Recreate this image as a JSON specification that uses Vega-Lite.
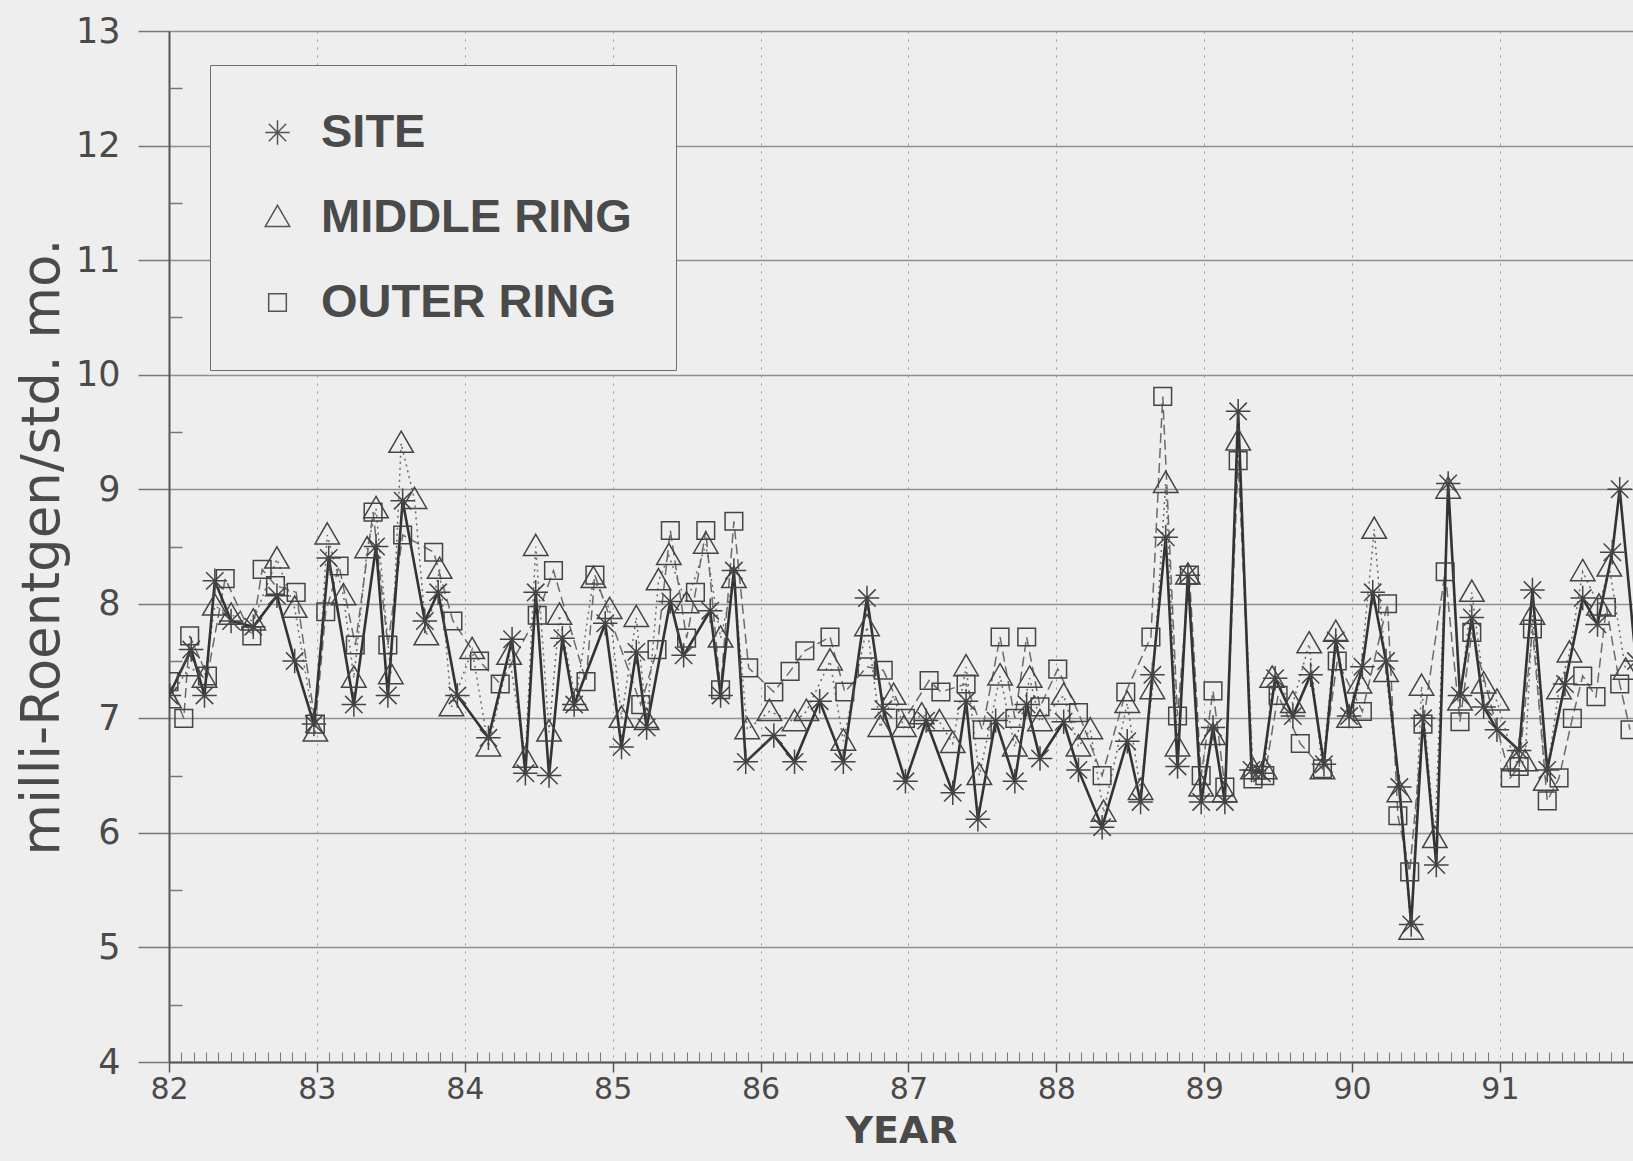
{
  "$schema": "https://vega.github.io/schema/vega-lite/v6.json",
  "width": 1464,
  "height": 1031,
  "autosize": {"type": "none"},
  "padding": {"left": 169, "top": 31, "right": 0, "bottom": 99},
  "background": "#eeeeee",
  "config": {"view": {"stroke": null}},
  "data": {"values": [
    {"series":"OUTER RING","year":82.00,"value":7.32},{"series":"OUTER RING","year":82.10,"value":7.0},{"series":"OUTER RING","year":82.14,"value":7.72},{"series":"OUTER RING","year":82.26,"value":7.37},{"series":"OUTER RING","year":82.38,"value":8.22},{"series":"OUTER RING","year":82.56,"value":7.72},{"series":"OUTER RING","year":82.63,"value":8.3},{"series":"OUTER RING","year":82.72,"value":8.16},{"series":"OUTER RING","year":82.86,"value":8.1},{"series":"OUTER RING","year":82.99,"value":6.95},
    {"series":"OUTER RING","year":83.06,"value":7.93},{"series":"OUTER RING","year":83.15,"value":8.33},{"series":"OUTER RING","year":83.26,"value":7.64},{"series":"OUTER RING","year":83.38,"value":8.8},{"series":"OUTER RING","year":83.48,"value":7.64},{"series":"OUTER RING","year":83.58,"value":8.6},{"series":"OUTER RING","year":83.79,"value":8.45},{"series":"OUTER RING","year":83.92,"value":7.85},
    {"series":"OUTER RING","year":84.10,"value":7.5},{"series":"OUTER RING","year":84.24,"value":7.3},{"series":"OUTER RING","year":84.49,"value":7.9},{"series":"OUTER RING","year":84.60,"value":8.29},{"series":"OUTER RING","year":84.82,"value":7.32},{"series":"OUTER RING","year":84.88,"value":8.25},
    {"series":"OUTER RING","year":85.19,"value":7.12},{"series":"OUTER RING","year":85.30,"value":7.6},{"series":"OUTER RING","year":85.39,"value":8.64},{"series":"OUTER RING","year":85.50,"value":7.7},{"series":"OUTER RING","year":85.56,"value":8.1},{"series":"OUTER RING","year":85.63,"value":8.64},{"series":"OUTER RING","year":85.73,"value":7.25},{"series":"OUTER RING","year":85.82,"value":8.72},{"series":"OUTER RING","year":85.92,"value":7.44},
    {"series":"OUTER RING","year":86.09,"value":7.23},{"series":"OUTER RING","year":86.20,"value":7.41},{"series":"OUTER RING","year":86.30,"value":7.59},{"series":"OUTER RING","year":86.47,"value":7.71},{"series":"OUTER RING","year":86.57,"value":7.23},{"series":"OUTER RING","year":86.72,"value":7.45},{"series":"OUTER RING","year":86.83,"value":7.42},{"series":"OUTER RING","year":86.98,"value":7.0},
    {"series":"OUTER RING","year":87.14,"value":7.33},{"series":"OUTER RING","year":87.22,"value":7.23},{"series":"OUTER RING","year":87.39,"value":7.3},{"series":"OUTER RING","year":87.50,"value":6.9},{"series":"OUTER RING","year":87.62,"value":7.71},{"series":"OUTER RING","year":87.72,"value":7.0},{"series":"OUTER RING","year":87.80,"value":7.71},{"series":"OUTER RING","year":87.89,"value":7.1},
    {"series":"OUTER RING","year":88.01,"value":7.43},{"series":"OUTER RING","year":88.15,"value":7.05},{"series":"OUTER RING","year":88.31,"value":6.5},{"series":"OUTER RING","year":88.47,"value":7.23},{"series":"OUTER RING","year":88.64,"value":7.71},{"series":"OUTER RING","year":88.72,"value":9.81},{"series":"OUTER RING","year":88.82,"value":7.02},{"series":"OUTER RING","year":88.90,"value":8.25},{"series":"OUTER RING","year":88.98,"value":6.5},
    {"series":"OUTER RING","year":89.06,"value":7.24},{"series":"OUTER RING","year":89.14,"value":6.4},{"series":"OUTER RING","year":89.23,"value":9.25},{"series":"OUTER RING","year":89.33,"value":6.47},{"series":"OUTER RING","year":89.41,"value":6.5},{"series":"OUTER RING","year":89.50,"value":7.2},{"series":"OUTER RING","year":89.65,"value":6.78},{"series":"OUTER RING","year":89.80,"value":6.56},{"series":"OUTER RING","year":89.90,"value":7.5},
    {"series":"OUTER RING","year":90.07,"value":7.06},{"series":"OUTER RING","year":90.24,"value":8.0},{"series":"OUTER RING","year":90.31,"value":6.15},{"series":"OUTER RING","year":90.39,"value":5.66},{"series":"OUTER RING","year":90.48,"value":6.95},{"series":"OUTER RING","year":90.63,"value":8.28},{"series":"OUTER RING","year":90.73,"value":6.97},{"series":"OUTER RING","year":90.81,"value":7.75},
    {"series":"OUTER RING","year":91.07,"value":6.48},{"series":"OUTER RING","year":91.13,"value":6.58},{"series":"OUTER RING","year":91.22,"value":7.78},{"series":"OUTER RING","year":91.32,"value":6.28},{"series":"OUTER RING","year":91.40,"value":6.48},{"series":"OUTER RING","year":91.49,"value":7.0},{"series":"OUTER RING","year":91.56,"value":7.37},{"series":"OUTER RING","year":91.65,"value":7.19},{"series":"OUTER RING","year":91.72,"value":7.97},{"series":"OUTER RING","year":91.81,"value":7.3},{"series":"OUTER RING","year":91.88,"value":6.9},

    {"series":"MIDDLE RING","year":82.00,"value":7.17},{"series":"MIDDLE RING","year":82.14,"value":7.45},{"series":"MIDDLE RING","year":82.24,"value":7.35},{"series":"MIDDLE RING","year":82.31,"value":7.98},{"series":"MIDDLE RING","year":82.42,"value":7.9},{"series":"MIDDLE RING","year":82.57,"value":7.85},{"series":"MIDDLE RING","year":82.73,"value":8.39},{"series":"MIDDLE RING","year":82.85,"value":7.96},{"series":"MIDDLE RING","year":82.99,"value":6.88},
    {"series":"MIDDLE RING","year":83.07,"value":8.6},{"series":"MIDDLE RING","year":83.18,"value":8.07},{"series":"MIDDLE RING","year":83.25,"value":7.35},{"series":"MIDDLE RING","year":83.34,"value":8.48},{"series":"MIDDLE RING","year":83.40,"value":8.83},{"series":"MIDDLE RING","year":83.50,"value":7.38},{"series":"MIDDLE RING","year":83.57,"value":9.4},{"series":"MIDDLE RING","year":83.66,"value":8.91},{"series":"MIDDLE RING","year":83.74,"value":7.72},{"series":"MIDDLE RING","year":83.83,"value":8.3},{"series":"MIDDLE RING","year":83.91,"value":7.1},
    {"series":"MIDDLE RING","year":84.05,"value":7.6},{"series":"MIDDLE RING","year":84.16,"value":6.75},{"series":"MIDDLE RING","year":84.30,"value":7.55},{"series":"MIDDLE RING","year":84.41,"value":6.65},{"series":"MIDDLE RING","year":84.48,"value":8.5},{"series":"MIDDLE RING","year":84.57,"value":6.88},{"series":"MIDDLE RING","year":84.64,"value":7.9},{"series":"MIDDLE RING","year":84.75,"value":7.15},{"series":"MIDDLE RING","year":84.87,"value":8.22},{"series":"MIDDLE RING","year":84.98,"value":7.95},
    {"series":"MIDDLE RING","year":85.06,"value":7.0},{"series":"MIDDLE RING","year":85.16,"value":7.88},{"series":"MIDDLE RING","year":85.23,"value":6.98},{"series":"MIDDLE RING","year":85.31,"value":8.2},{"series":"MIDDLE RING","year":85.38,"value":8.42},{"series":"MIDDLE RING","year":85.50,"value":8.0},{"series":"MIDDLE RING","year":85.63,"value":8.52},{"series":"MIDDLE RING","year":85.73,"value":7.7},{"series":"MIDDLE RING","year":85.82,"value":8.22},{"series":"MIDDLE RING","year":85.91,"value":6.9},
    {"series":"MIDDLE RING","year":86.06,"value":7.06},{"series":"MIDDLE RING","year":86.23,"value":6.97},{"series":"MIDDLE RING","year":86.31,"value":7.06},{"series":"MIDDLE RING","year":86.47,"value":7.5},{"series":"MIDDLE RING","year":86.56,"value":6.8},{"series":"MIDDLE RING","year":86.72,"value":7.8},{"series":"MIDDLE RING","year":86.81,"value":6.92},{"series":"MIDDLE RING","year":86.90,"value":7.2},{"series":"MIDDLE RING","year":86.97,"value":6.92},
    {"series":"MIDDLE RING","year":87.09,"value":7.03},{"series":"MIDDLE RING","year":87.21,"value":6.97},{"series":"MIDDLE RING","year":87.30,"value":6.78},{"series":"MIDDLE RING","year":87.39,"value":7.45},{"series":"MIDDLE RING","year":87.48,"value":6.5},{"series":"MIDDLE RING","year":87.62,"value":7.37},{"series":"MIDDLE RING","year":87.72,"value":6.75},{"series":"MIDDLE RING","year":87.82,"value":7.35},{"series":"MIDDLE RING","year":87.89,"value":6.97},
    {"series":"MIDDLE RING","year":88.05,"value":7.2},{"series":"MIDDLE RING","year":88.15,"value":6.75},{"series":"MIDDLE RING","year":88.23,"value":6.9},{"series":"MIDDLE RING","year":88.32,"value":6.18},{"series":"MIDDLE RING","year":88.48,"value":7.13},{"series":"MIDDLE RING","year":88.57,"value":6.37},{"series":"MIDDLE RING","year":88.65,"value":7.25},{"series":"MIDDLE RING","year":88.74,"value":9.05},{"series":"MIDDLE RING","year":88.82,"value":6.75},{"series":"MIDDLE RING","year":88.89,"value":8.25},{"series":"MIDDLE RING","year":88.98,"value":6.4},
    {"series":"MIDDLE RING","year":89.06,"value":6.85},{"series":"MIDDLE RING","year":89.14,"value":6.35},{"series":"MIDDLE RING","year":89.23,"value":9.42},{"series":"MIDDLE RING","year":89.33,"value":6.55},{"series":"MIDDLE RING","year":89.41,"value":6.55},{"series":"MIDDLE RING","year":89.46,"value":7.35},{"series":"MIDDLE RING","year":89.60,"value":7.13},{"series":"MIDDLE RING","year":89.71,"value":7.65},{"series":"MIDDLE RING","year":89.80,"value":6.55},{"series":"MIDDLE RING","year":89.89,"value":7.75},{"series":"MIDDLE RING","year":89.98,"value":7.0},
    {"series":"MIDDLE RING","year":90.05,"value":7.3},{"series":"MIDDLE RING","year":90.15,"value":8.65},{"series":"MIDDLE RING","year":90.23,"value":7.4},{"series":"MIDDLE RING","year":90.32,"value":6.35},{"series":"MIDDLE RING","year":90.40,"value":5.15},{"series":"MIDDLE RING","year":90.47,"value":7.28},{"series":"MIDDLE RING","year":90.56,"value":5.95},{"series":"MIDDLE RING","year":90.65,"value":9.0},{"series":"MIDDLE RING","year":90.73,"value":7.15},{"series":"MIDDLE RING","year":90.81,"value":8.1},{"series":"MIDDLE RING","year":90.89,"value":7.3},{"series":"MIDDLE RING","year":90.98,"value":7.15},
    {"series":"MIDDLE RING","year":91.10,"value":6.62},{"series":"MIDDLE RING","year":91.17,"value":6.62},{"series":"MIDDLE RING","year":91.22,"value":7.9},{"series":"MIDDLE RING","year":91.31,"value":6.45},{"series":"MIDDLE RING","year":91.40,"value":7.25},{"series":"MIDDLE RING","year":91.47,"value":7.57},{"series":"MIDDLE RING","year":91.56,"value":8.28},{"series":"MIDDLE RING","year":91.67,"value":7.98},{"series":"MIDDLE RING","year":91.74,"value":8.32},{"series":"MIDDLE RING","year":91.85,"value":7.42},

    {"series":"SITE","year":82.00,"value":7.2},{"series":"SITE","year":82.15,"value":7.6},{"series":"SITE","year":82.24,"value":7.2},{"series":"SITE","year":82.31,"value":8.2},{"series":"SITE","year":82.42,"value":7.85},{"series":"SITE","year":82.57,"value":7.8},{"series":"SITE","year":82.73,"value":8.07},{"series":"SITE","year":82.85,"value":7.5},{"series":"SITE","year":82.98,"value":6.95},
    {"series":"SITE","year":83.08,"value":8.4},{"series":"SITE","year":83.25,"value":7.12},{"series":"SITE","year":83.40,"value":8.5},{"series":"SITE","year":83.48,"value":7.2},{"series":"SITE","year":83.58,"value":8.9},{"series":"SITE","year":83.73,"value":7.85},{"series":"SITE","year":83.82,"value":8.1},{"series":"SITE","year":83.95,"value":7.2},
    {"series":"SITE","year":84.16,"value":6.83},{"series":"SITE","year":84.32,"value":7.69},{"series":"SITE","year":84.41,"value":6.52},{"series":"SITE","year":84.48,"value":8.1},{"series":"SITE","year":84.57,"value":6.5},{"series":"SITE","year":84.66,"value":7.7},{"series":"SITE","year":84.74,"value":7.12},{"series":"SITE","year":84.95,"value":7.83},
    {"series":"SITE","year":85.06,"value":6.75},{"series":"SITE","year":85.16,"value":7.58},{"series":"SITE","year":85.23,"value":6.92},{"series":"SITE","year":85.39,"value":8.02},{"series":"SITE","year":85.48,"value":7.55},{"series":"SITE","year":85.66,"value":7.94},{"series":"SITE","year":85.73,"value":7.2},{"series":"SITE","year":85.82,"value":8.29},{"series":"SITE","year":85.90,"value":6.62},
    {"series":"SITE","year":86.09,"value":6.85},{"series":"SITE","year":86.23,"value":6.62},{"series":"SITE","year":86.40,"value":7.15},{"series":"SITE","year":86.56,"value":6.62},{"series":"SITE","year":86.72,"value":8.05},{"series":"SITE","year":86.83,"value":7.08},{"series":"SITE","year":86.98,"value":6.45},
    {"series":"SITE","year":87.12,"value":6.98},{"series":"SITE","year":87.30,"value":6.35},{"series":"SITE","year":87.39,"value":7.15},{"series":"SITE","year":87.47,"value":6.12},{"series":"SITE","year":87.59,"value":6.98},{"series":"SITE","year":87.72,"value":6.45},{"series":"SITE","year":87.80,"value":7.12},{"series":"SITE","year":87.89,"value":6.65},
    {"series":"SITE","year":88.05,"value":6.97},{"series":"SITE","year":88.15,"value":6.55},{"series":"SITE","year":88.31,"value":6.05},{"series":"SITE","year":88.48,"value":6.8},{"series":"SITE","year":88.57,"value":6.27},{"series":"SITE","year":88.65,"value":7.38},{"series":"SITE","year":88.74,"value":8.58},{"series":"SITE","year":88.82,"value":6.58},{"series":"SITE","year":88.89,"value":8.25},{"series":"SITE","year":88.98,"value":6.27},
    {"series":"SITE","year":89.06,"value":6.92},{"series":"SITE","year":89.14,"value":6.27},{"series":"SITE","year":89.23,"value":9.68},{"series":"SITE","year":89.32,"value":6.55},{"series":"SITE","year":89.39,"value":6.52},{"series":"SITE","year":89.48,"value":7.35},{"series":"SITE","year":89.60,"value":7.02},{"series":"SITE","year":89.72,"value":7.38},{"series":"SITE","year":89.81,"value":6.6},{"series":"SITE","year":89.89,"value":7.68},{"series":"SITE","year":89.98,"value":7.02},
    {"series":"SITE","year":90.07,"value":7.45},{"series":"SITE","year":90.14,"value":8.1},{"series":"SITE","year":90.23,"value":7.5},{"series":"SITE","year":90.32,"value":6.4},{"series":"SITE","year":90.40,"value":5.2},{"series":"SITE","year":90.48,"value":7.0},{"series":"SITE","year":90.57,"value":5.72},{"series":"SITE","year":90.65,"value":9.05},{"series":"SITE","year":90.73,"value":7.2},{"series":"SITE","year":90.81,"value":7.88},{"series":"SITE","year":90.89,"value":7.1},{"series":"SITE","year":90.98,"value":6.9},
    {"series":"SITE","year":91.13,"value":6.72},{"series":"SITE","year":91.22,"value":8.12},{"series":"SITE","year":91.32,"value":6.55},{"series":"SITE","year":91.44,"value":7.3},{"series":"SITE","year":91.56,"value":8.05},{"series":"SITE","year":91.66,"value":7.82},{"series":"SITE","year":91.76,"value":8.45},{"series":"SITE","year":91.81,"value":9.0},{"series":"SITE","year":91.92,"value":7.5}
  ]},
  "resolve": {"axis": {"x": "independent", "y": "independent"}},
  "layer": [
    {
      "transform": [{"filter": "datum.series != 'SITE'"}],
      "mark": {"type": "line", "clip": true, "color": "#6a6a6a", "strokeWidth": 1.5},
      "encoding": {
        "x": {"field": "year", "type": "quantitative", "scale": {"domain": [82, 91.9], "nice": false, "zero": false},
          "axis": {"orient": "bottom", "values": [82,83,84,85,86,87,88,89,90,91], "grid": true, "gridColor": "#9a9a9a", "gridDash": [2, 6], "gridWidth": 1,
            "tickSize": 10, "tickColor": "#555555", "tickWidth": 1.5, "domainColor": "#555555", "domainWidth": 2,
            "labelFont": "DejaVu Sans", "labelFontSize": 30, "labelColor": "#4a4a4a", "labelPadding": 2, "labelOverlap": false, "labelBound": false, "labelFlush": false,
            "title": "YEAR", "titleFont": "DejaVu Sans", "titleFontSize": 38, "titleFontWeight": "bold", "titleColor": "#4a4a4a", "titlePadding": 8}},
        "y": {"field": "value", "type": "quantitative", "scale": {"domain": [4, 13], "nice": false, "zero": false},
          "axis": {"orient": "left", "values": [4,5,6,7,8,9,10,11,12,13], "grid": true, "gridColor": "#8f8f8f", "gridWidth": 1.5,
            "tickSize": 31, "tickColor": "#777777", "tickWidth": 1.5, "domainColor": "#555555", "domainWidth": 2,
            "labelFont": "DejaVu Sans", "labelFontSize": 35, "labelColor": "#4a4a4a", "labelPadding": 18, "labelOverlap": false, "labelBound": false, "labelFlush": false,
            "title": "milli-Roentgen/std. mo.", "titleFont": "DejaVu Sans", "titleFontSize": 53, "titleFontWeight": "normal", "titleColor": "#4a4a4a", "titlePadding": 6}},
        "strokeDash": {"field": "series", "type": "nominal", "scale": {"domain": ["MIDDLE RING", "OUTER RING"], "range": [[2, 4], [10, 5]]}, "legend": null}
      }
    },
    {
      "transform": [{"filter": "datum.series == 'SITE'"}],
      "mark": {"type": "line", "clip": true, "color": "#333333", "strokeWidth": 2.6},
      "encoding": {
        "x": {"field": "year", "type": "quantitative", "axis": null},
        "y": {"field": "value", "type": "quantitative", "axis": null}
      }
    },
    {
      "mark": {"type": "point", "clip": true, "filled": false, "color": "#444444", "strokeWidth": 1.5, "size": 600, "opacity": 1},
      "encoding": {
        "x": {"field": "year", "type": "quantitative",
          "axis": {"orient": "bottom", "values": [82.083,82.167,82.25,82.333,82.417,82.5,82.583,82.667,82.75,82.833,82.917,83.083,83.167,83.25,83.333,83.417,83.5,83.583,83.667,83.75,83.833,83.917,84.083,84.167,84.25,84.333,84.417,84.5,84.583,84.667,84.75,84.833,84.917,85.083,85.167,85.25,85.333,85.417,85.5,85.583,85.667,85.75,85.833,85.917,86.083,86.167,86.25,86.333,86.417,86.5,86.583,86.667,86.75,86.833,86.917,87.083,87.167,87.25,87.333,87.417,87.5,87.583,87.667,87.75,87.833,87.917,88.083,88.167,88.25,88.333,88.417,88.5,88.583,88.667,88.75,88.833,88.917,89.083,89.167,89.25,89.333,89.417,89.5,89.583,89.667,89.75,89.833,89.917,90.083,90.167,90.25,90.333,90.417,90.5,90.583,90.667,90.75,90.833,90.917,91.083,91.167,91.25,91.333,91.417,91.5,91.583,91.667,91.75,91.833],
            "tickSize": -10, "tickColor": "#777777", "tickWidth": 1, "labels": false, "domain": false, "grid": false, "title": null}},
        "y": {"field": "value", "type": "quantitative",
          "axis": {"orient": "left", "values": [4.5,5.5,6.5,7.5,8.5,9.5,10.5,11.5,12.5], "tickSize": -13, "tickColor": "#777777", "tickWidth": 1.5, "labels": false, "domain": false, "grid": false, "title": null}},
        "shape": {"field": "series", "type": "nominal",
          "scale": {"domain": ["SITE", "MIDDLE RING", "OUTER RING"],
            "range": ["M-1,0L1,0M0,-1L0,1M-0.71,-0.71L0.71,0.71M-0.71,0.71L0.71,-0.71", "M0,-1L1,0.73L-1,0.73Z", "M-0.72,-0.72L0.72,-0.72L0.72,0.72L-0.72,0.72Z"]},
          "legend": {"orient": "none", "legendX": 41, "legendY": 34, "title": null, "padding": 44, "rowPadding": 37,
            "strokeColor": "#6f6f6f", "fillColor": "#eeeeee",
            "labelFont": "Liberation Sans", "labelFontSize": 47, "labelFontWeight": "bold", "labelColor": "#4a4a4a", "labelOffset": 20, "labelLimit": 500,
            "symbolSize": 600, "symbolStrokeWidth": 1.5, "symbolStrokeColor": "#555555", "symbolFillColor": "transparent"}}
      }
    }
  ]
}
